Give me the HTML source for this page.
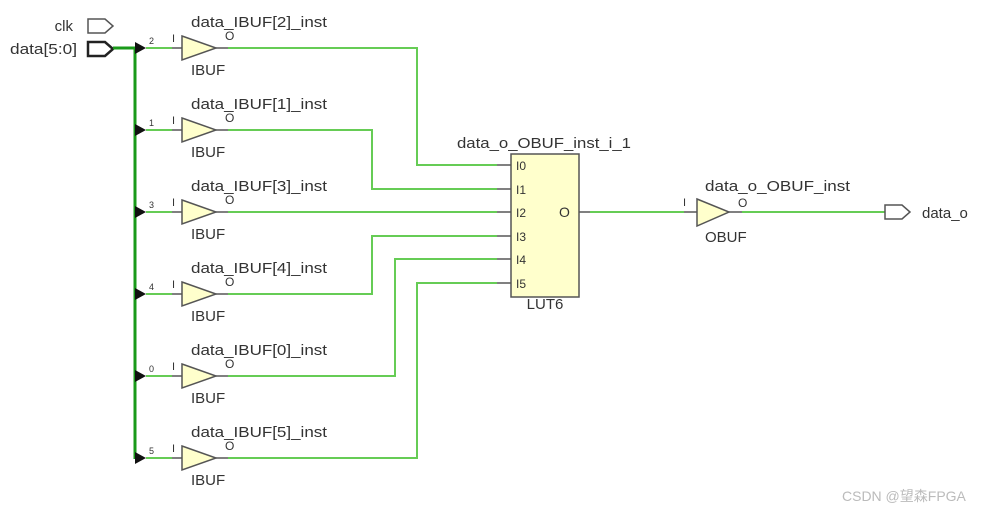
<!DOCTYPE html>
<html><head><meta charset="utf-8"><style>
html,body{margin:0;padding:0;background:#fff;width:1003px;height:513px;overflow:hidden}
text{font-family:"Liberation Sans","Noto Sans CJK SC",sans-serif;fill:#333}
</style></head><body>
<svg width="1003" height="513" xmlns="http://www.w3.org/2000/svg">
<!-- ports -->
<text x="73" y="31" font-size="15" text-anchor="end">clk</text>
<path d="M88,19 H105 L113,26 L105,33 H88 Z" fill="#fff" stroke="#555" stroke-width="1.5"/>
<text x="10" y="54" font-size="15" textLength="67" lengthAdjust="spacingAndGlyphs">data[5:0]</text>
<path d="M88,42 H105 L113,49 L105,56 H88 Z" fill="#fff" stroke="#222" stroke-width="2.5"/>
<line x1="113" y1="48" x2="135" y2="48" stroke="#1a9a1a" stroke-width="3"/>
<line x1="135" y1="47" x2="135" y2="459" stroke="#1a9a1a" stroke-width="3"/>

<!-- LUT -->
<rect x="511" y="154" width="68" height="143" fill="#ffffcc" stroke="#555" stroke-width="1.5"/>
<text x="457" y="148" font-size="15" textLength="174" lengthAdjust="spacingAndGlyphs">data_o_OBUF_inst_i_1</text>
<text x="545" y="309" font-size="15" text-anchor="middle">LUT6</text>
<text x="559" y="217" font-size="14">O</text>

<g id="rows"></g>

<!-- output -->
<line x1="579" y1="212" x2="590" y2="212" stroke="#555" stroke-width="1.5"/>
<line x1="590" y1="212" x2="684" y2="212" stroke="#66cc55" stroke-width="2"/>
<line x1="684" y1="212" x2="697" y2="212" stroke="#555" stroke-width="1.5"/>
<path d="M697,199 L729,212 L697,226 Z" fill="#ffffcc" stroke="#555" stroke-width="1.5"/>
<line x1="729" y1="212" x2="742" y2="212" stroke="#555" stroke-width="1.5"/>
<line x1="742" y1="212" x2="885" y2="212" stroke="#66cc55" stroke-width="2"/>
<path d="M885,205 H902 L910,212 L902,219 H885 Z" fill="#fff" stroke="#555" stroke-width="1.5"/>
<text x="922" y="218" font-size="15">data_o</text>
<text x="705" y="191" font-size="15" textLength="145" lengthAdjust="spacingAndGlyphs">data_o_OBUF_inst</text>
<text x="683" y="206" font-size="11">I</text>
<text x="738" y="207" font-size="12">O</text>
<text x="705" y="242" font-size="15">OBUF</text>

<text x="842" y="501" font-size="14" style="fill:#bbb">CSDN @望森FPGA</text>
</svg>
<script>
var rows=[[48,"2","2",417,165],[130,"1","1",372,189],[212,"3","3",null,212],[294,"4","4",372,236],[376,"0","0",395,259],[458,"5","5",417,283]];
var s="";
var pins=[165,189,212,236,259,283];
pins.forEach(function(p,i){s+='<line x1="497" y1="'+p+'" x2="511" y2="'+p+'" stroke="#555" stroke-width="1.5"/><text x="516" y="'+(p+5)+'" font-size="12">I'+i+'</text>';});
rows.forEach(function(r){var y=r[0];
s+='<path d="M135,'+(y-6)+' L146,'+y+' L135,'+(y+6)+' Z" fill="#111"/>';
s+='<text x="149" y="'+(y-4)+'" font-size="9">'+r[1]+'</text>';
s+='<line x1="146" y1="'+y+'" x2="172" y2="'+y+'" stroke="#66cc55" stroke-width="2"/>';
s+='<line x1="172" y1="'+y+'" x2="182" y2="'+y+'" stroke="#555" stroke-width="1.5"/>';
s+='<text x="172" y="'+(y-6)+'" font-size="11">I</text>';
s+='<path d="M182,'+(y-12)+' L216,'+y+' L182,'+(y+12)+' Z" fill="#ffffcc" stroke="#555" stroke-width="1.5"/>';
s+='<line x1="216" y1="'+y+'" x2="228" y2="'+y+'" stroke="#555" stroke-width="1.5"/>';
s+='<text x="225" y="'+(y-8)+'" font-size="12">O</text>';
s+='<text x="191" y="'+(y-21)+'" font-size="15" textLength="136" lengthAdjust="spacingAndGlyphs">data_IBUF['+r[2]+']_inst</text>';
s+='<text x="191" y="'+(y+27)+'" font-size="15">IBUF</text>';
var d=r[3]===null?'M228,'+y+' H497':'M228,'+y+' H'+r[3]+' V'+r[4]+' H497';
s+='<path d="'+d+'" fill="none" stroke="#66cc55" stroke-width="2"/>';
});
document.getElementById("rows").innerHTML=s;
</script>
</body></html>
